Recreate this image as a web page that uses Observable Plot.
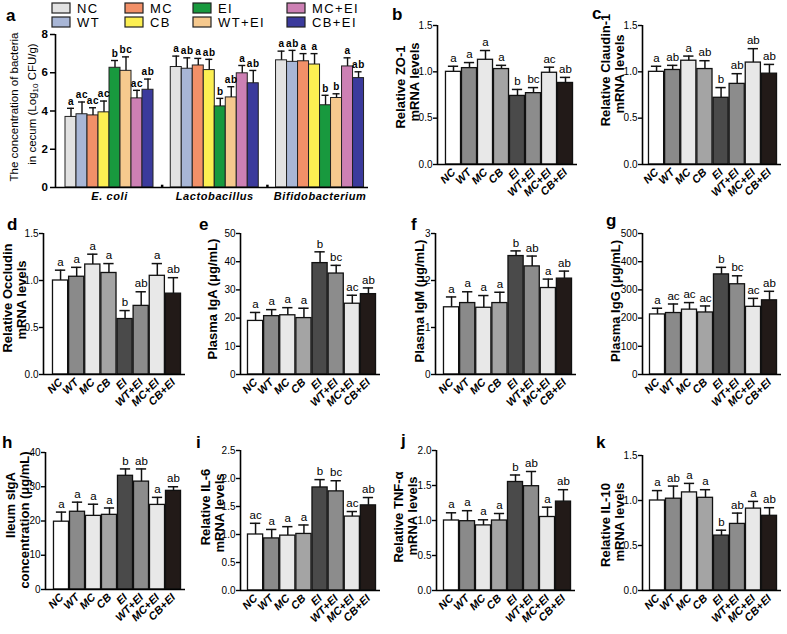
<!DOCTYPE html>
<html><head><meta charset="utf-8">
<script src="https://cdn.jsdelivr.net/npm/d3@7"></script>
<script src="https://cdn.jsdelivr.net/npm/@observablehq/plot@0.6"></script>
<style>
html,body{margin:0;padding:0;background:#fff;}
#root{position:relative;width:787px;height:634px;overflow:hidden;background:#fff;}
#root svg{position:absolute;overflow:visible;}
</style></head><body><div id="root"></div>
<script>
// ---------- data ----------
const groups = ["NC","WT","MC","CB","EI","WT+EI","MC+EI","CB+EI"];
const grayFills = ["#ffffff","#8a8a8a","#e8e8e8","#a4a4a4","#4a4a4a","#8c8c8c","#e8e8e8","#221a18"];
const bacteria = ["E. coli","Lactobacillus","Bifidobacterium"];
const bacColors = ["#e2e2e2","#a8b6d6","#f29068","#fcef52","#18993e","#f6c98e","#cd80b4","#3b3a9c"];

const ecoliMean = [3.69,3.83,3.77,3.93,6.26,6.10,4.66,5.11];
const ecoliErr  = [4.14,4.47,4.17,4.52,6.64,6.83,5.08,5.67];
const ecoliSig  = ["a","ac","ac","ac","b","bc","ac","ab"];
const lactoMean = [6.30,6.21,6.38,6.14,4.24,4.71,5.97,5.45];
const lactoErr  = [6.87,6.78,6.75,6.70,4.66,5.27,6.38,6.12];
const lactoSig  = ["a","ab","a","ab","b","ab","a","ab"];
const bifidoMean = [6.65,6.57,6.60,6.43,4.30,4.68,6.33,5.72];
const bifidoErr  = [7.13,7.17,7.00,7.00,4.82,4.90,6.78,6.05];
const bifidoSig  = ["a","ab","a","a","b","b","a","ab"];

const zo1Mean = [1.00,1.04,1.13,1.03,0.74,0.77,0.99,0.88];
const zo1Err  = [1.06,1.10,1.23,1.07,0.81,0.83,1.05,0.94];
const zo1Sig  = ["a","a","a","a","b","bc","ac","ab"];
const claMean = [1.00,1.02,1.12,1.03,0.72,0.87,1.10,0.98];
const claErr  = [1.06,1.07,1.17,1.12,0.83,0.98,1.25,1.08];
const claSig  = ["a","ab","a","ab","b","ab","ab","ab"];
const occMean = [1.00,1.04,1.17,1.08,0.59,0.73,1.05,0.86];
const occErr  = [1.11,1.14,1.28,1.18,0.68,0.88,1.18,1.03];
const occSig  = ["a","a","a","a","b","ab","a","ab"];
const igaMean = [19.0,20.7,21.0,20.0,39.5,35.8,25.1,28.5];
const igaErr  = [22.0,23.0,23.7,23.5,43.5,38.7,28.1,30.7];
const igaSig  = ["a","a","a","a","b","bc","ac","ab"];
const igmMean = [1.43,1.52,1.42,1.52,2.52,2.30,1.84,2.04];
const igmErr  = [1.65,1.76,1.68,1.75,2.63,2.52,2.03,2.20];
const igmSig  = ["a","a","a","a","b","ab","a","ab"];
const iggMean = [213,218,230,220,355,320,240,263];
const iggErr  = [235,250,255,243,380,350,270,295];
const iggSig  = ["a","ac","ac","ac","b","bc","ac","ab"];
const siaMean = [19.8,22.7,21.5,21.8,33.2,31.5,24.7,28.8];
const siaErr  = [22.6,25.5,24.9,23.8,35.2,35.2,26.9,30.0];
const siaSig  = ["a","a","a","a","b","ab","a","ab"];
const il6Mean = [1.00,0.93,0.98,1.01,1.84,1.77,1.32,1.52];
const il6Err  = [1.20,1.09,1.14,1.17,1.98,1.96,1.41,1.66];
const il6Sig  = ["ac","a","a","a","b","bc","ac","ab"];
const tnfMean = [1.00,0.99,0.93,1.00,1.55,1.49,1.05,1.27];
const tnfErr  = [1.11,1.14,1.01,1.10,1.65,1.70,1.19,1.44];
const tnfSig  = ["a","a","a","a","b","ab","a","ab"];
const il10Mean = [1.00,1.02,1.09,1.03,0.61,0.74,0.91,0.83];
const il10Err  = [1.11,1.16,1.19,1.12,0.67,0.86,0.99,0.92];
const il10Sig  = ["a","ab","a","a","b","ab","a","ab"];

const ticks15 = [0,0.5,1,1.5];

// ---------- helpers ----------
const NARROW = "'Liberation Sans Narrow','Arial Narrow',Arial,sans-serif";
const ARIAL = "'Liberation Sans',Arial,Helvetica,sans-serif";
const root = document.getElementById("root");

function grayPanel(c) {
  const mL = 36, mR = 2, mT = 16, mB = 54;
  const ppu = (c.bx1 - c.bx0) / 8;
  const d0 = -0.5 - (c.bx0 - c.ax) / ppu;
  const d1 = 7.5 + 4 / ppu;
  const rows = groups.map((g, i) => ({i, g, mean: c.means[i], err: c.errs[i], sig: c.sigs[i], fill: grayFills[i]}));
  const width = mL + (c.bx1 + 4 - c.ax) + mR;
  const height = mT + (c.y0 - c.yt) + mB;
  const svg = Plot.plot({
    width, height, marginLeft: mL, marginRight: mR, marginTop: mT, marginBottom: mB,
    x: {domain: [d0, d1]}, y: {domain: [0, c.ymax]}, color: {type: "identity"},
    style: {background: "transparent", overflow: "visible", color: "#000"},
    marks: [
      Plot.rectY(rows, {x1: d => d.i - 0.47, x2: d => d.i + 0.47, y1: 0, y2: "mean", fill: "fill", stroke: "#111", strokeWidth: 1.3}),
      Plot.ruleX(rows, {x: "i", y1: "mean", y2: "err", stroke: "#111", strokeWidth: 1.5}),
      Plot.ruleY(rows, {y: "err", x1: d => d.i - 0.32, x2: d => d.i + 0.32, stroke: "#111", strokeWidth: 1.5}),
      Plot.text(rows, {x: "i", y: "err", text: "sig", dy: -8, fontSize: 11.5, fontFamily: NARROW, fill: "#000"}),
      Plot.ruleX([d0], {y1: 0, y2: c.ymax, stroke: "#000", strokeWidth: 1.6}),
      Plot.ruleY([0], {x1: d0, x2: d1, stroke: "#000", strokeWidth: 1.6}),
      Plot.axisY({ticks: c.yticks, tickFormat: c.fmt, tickSize: 4, tickPadding: 1, strokeWidth: 1.4, fontSize: 10, fontFamily: NARROW, label: null}),
      Plot.axisX({ticks: d3.range(8), tickFormat: i => groups[i], tickRotate: -45, tickSize: 0, tickPadding: 6, fontSize: 11, fontWeight: "bold", fontStyle: "italic", fontFamily: ARIAL, label: null})
    ]
  });
  svg.style.left = (c.ax - mL) + "px";
  svg.style.top = (c.yt - mT) + "px";
  root.appendChild(svg);
}

function panelA() {
  const ax = 55, y0 = 187, yt = 34, ppu = 11, gOff = 9.57, c0 = 70.5, xEnd = 368;
  const mL = 26, mR = 4, mT = 14, mB = 24;
  const d0 = -(c0 - ax) / ppu, d1 = (xEnd - c0) / ppu;
  const sets = [[ecoliMean, ecoliErr, ecoliSig],[lactoMean, lactoErr, lactoSig],[bifidoMean, bifidoErr, bifidoSig]];
  const rows = [];
  sets.forEach(([m, e, s], g) => groups.forEach((name, i) => rows.push({x: g * gOff + i, mean: m[i], err: e[i], sig: s[i], fill: bacColors[i]})));
  const seps = [0, 1].map(g => g * gOff + 7 + (gOff - 7) / 2);
  const width = mL + (xEnd - ax) + mR, height = mT + (y0 - yt) + mB;
  const svg = Plot.plot({
    width, height, marginLeft: mL, marginRight: mR, marginTop: mT, marginBottom: mB,
    x: {domain: [d0, d1]}, y: {domain: [0, 8]}, color: {type: "identity"},
    style: {background: "transparent", overflow: "visible", color: "#000"},
    marks: [
      Plot.rectY(rows, {x1: d => d.x - 0.5, x2: d => d.x + 0.5, y1: 0, y2: "mean", fill: "fill", stroke: "#222", strokeWidth: 1}),
      Plot.ruleX(rows, {x: "x", y1: "mean", y2: "err", stroke: "#111", strokeWidth: 1.4}),
      Plot.ruleY(rows, {y: "err", x1: d => d.x - 0.32, x2: d => d.x + 0.32, stroke: "#111", strokeWidth: 1.4}),
      Plot.text(rows, {x: "x", y: "err", text: "sig", dy: -7, fontSize: 10, fontWeight: "bold", fontFamily: ARIAL, fill: "#000"}),
      Plot.ruleX(seps, {y1: 0, y2: 0.12, stroke: "#000", strokeWidth: 2.5}),
      Plot.ruleX([d0], {y1: 0, y2: 8, stroke: "#000", strokeWidth: 1.6}),
      Plot.ruleY([0], {x1: d0, x2: d1, stroke: "#000", strokeWidth: 1.6}),
      Plot.axisY({ticks: [0,2,4,6,8], tickSize: 5, tickPadding: 2, strokeWidth: 1.5, fontSize: 11.5, fontWeight: "bold", fontFamily: ARIAL, label: null}),
      Plot.axisX({ticks: [0,1,2].map(g => g * gOff + 3.5), tickFormat: (v, k) => bacteria[k], tickSize: 0, tickPadding: 5, fontSize: 11, fontWeight: "bold", fontStyle: "italic", fontFamily: ARIAL, label: null})
    ]
  });
  svg.style.left = (ax - mL) + "px";
  svg.style.top = (yt - mT) + "px";
  svg.style.letterSpacing = "0.6px";
  root.appendChild(svg);
}

panelA();
grayPanel({means: zo1Mean, errs: zo1Err, sigs: zo1Sig, ymax: 1.5, yticks: ticks15, fmt: ".1f", ax: 437, bx0: 445, bx1: 573, y0: 164, yt: 25});
grayPanel({means: claMean, errs: claErr, sigs: claSig, ymax: 1.5, yticks: ticks15, fmt: ".1f", ax: 642, bx0: 648, bx1: 777, y0: 164, yt: 25});
grayPanel({means: occMean, errs: occErr, sigs: occSig, ymax: 1.5, yticks: ticks15, fmt: ".1f", ax: 43, bx0: 52, bx1: 181, y0: 374, yt: 233});
grayPanel({means: igaMean, errs: igaErr, sigs: igaSig, ymax: 50, yticks: [0,10,20,30,40,50], fmt: "d", ax: 240, bx0: 247, bx1: 376, y0: 374, yt: 233});
grayPanel({means: igmMean, errs: igmErr, sigs: igmSig, ymax: 3, yticks: [0,1,2,3], fmt: "d", ax: 435, bx0: 443, bx1: 572, y0: 374, yt: 233});
grayPanel({means: iggMean, errs: iggErr, sigs: iggSig, ymax: 500, yticks: [0,100,200,300,400,500], fmt: "d", ax: 642, bx0: 649, bx1: 777, y0: 374, yt: 233});
grayPanel({means: siaMean, errs: siaErr, sigs: siaSig, ymax: 40, yticks: [0,10,20,30,40], fmt: "d", ax: 45, bx0: 53, bx1: 181, y0: 589, yt: 452});
grayPanel({means: il6Mean, errs: il6Err, sigs: il6Sig, ymax: 2.5, yticks: [0,0.5,1,1.5,2,2.5], fmt: ".1f", ax: 240, bx0: 247, bx1: 376, y0: 590, yt: 450});
grayPanel({means: tnfMean, errs: tnfErr, sigs: tnfSig, ymax: 2, yticks: [0,0.5,1,1.5,2], fmt: ".1f", ax: 436, bx0: 443, bx1: 571, y0: 590, yt: 450});
grayPanel({means: il10Mean, errs: il10Err, sigs: il10Sig, ymax: 1.5, yticks: ticks15, fmt: ".1f", ax: 642, bx0: 649, bx1: 777, y0: 590, yt: 455});

// ---------- overlay: legend, panel letters, axis titles ----------
const ov = d3.select(root).append("svg").attr("width", 787).attr("height", 634).style("left", "0px").style("top", "0px");
const legCols = [52, 125, 193, 287], legRows = [8, 22];
groups.forEach((g, i) => {
  const cx = legCols[Math.floor(i / 2)], cy = legRows[i % 2];
  ov.append("rect").attr("x", cx).attr("y", cy - 5).attr("width", 18).attr("height", 10)
    .attr("fill", bacColors[i]).attr("stroke", "#222").attr("stroke-width", 1.2);
  ov.append("text").attr("x", cx + 25).attr("y", cy + 5).attr("font-family", ARIAL).attr("font-size", 13)
    .attr("letter-spacing", "1.4px").text(g);
});
const letters = [["a",6,21],["b",392,20],["c",592,19],["d",7,230],["e",199,230],["f",411,230],["g",606,226],["h",2,448],["i",196,448],["j",401,446],["k",596,448]];
letters.forEach(([t, x, y]) => ov.append("text").attr("x", x).attr("y", y).attr("font-family", ARIAL)
  .attr("font-weight", "bold").attr("font-size", 17).text(t));
const titles = [
  ["Relative ZO-1",400,87],["mRNA levels",414,82],
  ["Relative Claudin-1",605,70],["mRNA levels",619,74],
  ["Relative Occludin",7,298],["mRNA levels",21,300],
  ["Plasma IgA (\u03bcg/mL)",212,299],
  ["Plasma IgM (\u03bcg/mL)",419,301],
  ["Plasma IgG (\u03bcg/mL)",615,301],
  ["Ileum sIgA",10,505],["concentration (\u03bcg/mL)",24,520],
  ["Relative IL-6",205,507],["mRNA levels",219,513],
  ["Relative TNF-\u03b1",398,517],["mRNA levels",412,516],
  ["Relative IL-10",605,525],["mRNA levels",619,522]
];
titles.forEach(([t, x, y]) => ov.append("text").attr("transform", `translate(${x},${y}) rotate(-90)`)
  .attr("text-anchor", "middle").attr("dominant-baseline", "central")
  .attr("font-family", ARIAL).attr("font-weight", "bold").attr("font-size", 13).text(t));
const ta1 = ov.append("text").attr("transform", "translate(14,107) rotate(-90)").attr("text-anchor", "middle")
  .attr("dominant-baseline", "central").attr("font-family", ARIAL).attr("font-size", 11.5).text("The concentration of bacteria");
const ta2 = ov.append("text").attr("transform", "translate(32,104) rotate(-90)").attr("text-anchor", "middle")
  .attr("dominant-baseline", "central").attr("font-family", ARIAL).attr("font-size", 11.5);
ta2.append("tspan").text("in cecum (Log");
ta2.append("tspan").attr("font-size", 8).attr("dy", 3).text("10");
ta2.append("tspan").attr("dy", -3).text(" CFU/g)");
</script></body></html>
